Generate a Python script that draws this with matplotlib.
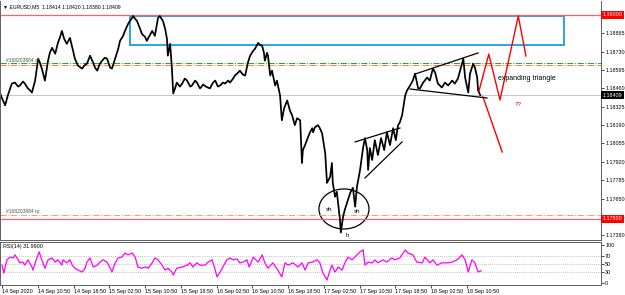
import numpy as np
import matplotlib
matplotlib.use('Agg')
import matplotlib.pyplot as plt
from matplotlib.patches import Ellipse, Rectangle

plt.rcParams['font.family'] = ['Liberation Sans', 'DejaVu Sans']

# EURUSD M5, time in hours after 14 Sep 02:50
price_t = [-0.4, 0.0, 0.7, 1.3, 2.2, 2.9, 3.6, 4.0, 4.7, 5.1, 5.8, 6.3, 6.7, 7.4, 8.1, 8.5, 8.9, 9.6,
           10.3, 10.7, 11.2, 11.9, 12.5, 13.0, 13.4, 13.9, 14.5, 15.2, 15.9, 16.3, 17.0, 17.9, 18.6,
           19.0, 19.7, 20.4, 20.8, 21.3, 21.9, 22.4, 23.0, 23.5, 24.2, 24.6, 25.3, 26.0, 26.4, 27.1,
           27.5, 28.2, 28.6, 29.1, 29.3, 29.8, 30.2, 30.9, 31.3, 32.0, 32.4, 33.1, 33.6, 34.2, 34.9,
           35.3, 36.0, 36.5, 36.9, 37.1, 37.6, 38.0, 38.3, 38.7, 39.1, 39.8, 40.3, 40.9, 41.4, 42.1,
           42.5, 43.2, 43.6, 44.3, 45.0, 45.6, 46.5, 47.2, 47.7, 48.3, 48.8, 49.4, 49.9, 50.6, 51.0,
           51.7, 52.1, 52.8, 53.2, 53.9, 54.4, 55.0, 55.5, 56.2, 56.6, 57.3, 57.7, 58.2, 58.6, 58.8,
           59.3, 59.5, 60.0, 60.4, 61.1, 61.5, 62.2, 62.6, 63.1, 63.8, 64.4, 64.9, 65.5, 66.0, 66.7,
           67.1, 67.3, 67.8, 68.2, 68.9, 69.4, 69.6, 70.0, 70.7, 71.1, 71.6, 72.3, 72.7, 73.4, 73.8,
           74.0, 74.5, 74.9, 75.6, 75.8, 76.3, 76.7, 77.2, 77.9, 78.5, 79.0, 79.4, 80.1, 80.8, 81.2,
           81.7, 81.9, 82.3, 82.8, 83.4, 84.1, 84.8, 85.5, 86.1, 86.8, 87.5, 88.1, 88.6, 89.0, 89.5,
           90.2, 90.6, 91.3, 91.9, 92.4, 93.1, 93.5, 94.2, 95.1, 95.7, 96.4, 96.9, 97.5, 98.4, 99.1,
           99.8, 100.7, 101.3, 102.0, 102.9, 103.2, 103.6, 104.3, 104.7, 105.4, 105.8, 106.3, 106.5,
           107.0]
price = [1.18422, 1.18386, 1.18335, 1.18408, 1.18495, 1.18502, 1.18473, 1.18481, 1.18510, 1.18495,
         1.18459, 1.18444, 1.18429, 1.18517, 1.18678, 1.18648, 1.18605, 1.18517, 1.18663, 1.18721,
         1.18758, 1.18714, 1.18794, 1.18838, 1.18882, 1.18824, 1.18787, 1.18831, 1.18736, 1.18678,
         1.18627, 1.18605, 1.18634, 1.18641, 1.18700, 1.18648, 1.18612, 1.18590, 1.18641, 1.18663,
         1.18685, 1.18678, 1.18612, 1.18605, 1.18678, 1.18751, 1.18809, 1.18846, 1.18882, 1.18933,
         1.18955, 1.18977, 1.18992, 1.18970, 1.18955, 1.18897, 1.18860, 1.18838, 1.18809, 1.18853,
         1.18882, 1.18846, 1.18977, 1.18992, 1.18955, 1.18897, 1.18824, 1.18700, 1.18787, 1.18612,
         1.18422, 1.18459, 1.18502, 1.18473, 1.18495, 1.18532, 1.18517, 1.18473, 1.18481, 1.18517,
         1.18502, 1.18459, 1.18488, 1.18473, 1.18459, 1.18502, 1.18517, 1.18473, 1.18481, 1.18502,
         1.18495, 1.18517, 1.18502, 1.18532, 1.18554, 1.18575, 1.18590, 1.18561, 1.18554, 1.18648,
         1.18700, 1.18736, 1.18751, 1.18794, 1.18780, 1.18772, 1.18721, 1.18663, 1.18721, 1.18700,
         1.18554, 1.18590, 1.18481, 1.18517, 1.18408, 1.18225, 1.18313, 1.18371, 1.18298, 1.18262,
         1.18189, 1.18240, 1.18225, 1.17911, 1.18006, 1.18043, 1.18079, 1.18137, 1.18167, 1.18137,
         1.18174, 1.18189, 1.18167, 1.18130, 1.17984, 1.17765, 1.17809, 1.17911, 1.17765, 1.17663,
         1.17699, 1.17495, 1.17400, 1.17517, 1.17568, 1.17619, 1.17692, 1.17729, 1.17590, 1.17736,
         1.17860, 1.18028, 1.18094, 1.18006, 1.17860, 1.18021, 1.17933, 1.18079, 1.17970, 1.18094,
         1.18006, 1.18137, 1.18043, 1.18167, 1.18079, 1.18189, 1.18210, 1.18262, 1.18408, 1.18444,
         1.18481, 1.18517, 1.18568, 1.18459, 1.18459, 1.18502, 1.18539, 1.18517, 1.18605, 1.18575,
         1.18495, 1.18466, 1.18502, 1.18481, 1.18517, 1.18495, 1.18532, 1.18641, 1.18678, 1.18539,
         1.18429, 1.18568, 1.18641, 1.18612, 1.18539, 1.18444, 1.18409]

rsi_t = [0.0, 0.4, 1.1, 1.8, 2.5, 2.9, 3.6, 4.0, 4.7, 5.1, 5.8, 6.7, 6.9, 7.8, 8.3, 8.9, 9.6, 10.3,
         11.2, 11.9, 12.5, 13.4, 13.6, 14.5, 15.2, 15.7, 16.3, 17.0, 17.9, 18.6, 19.0, 19.7, 20.4,
         21.3, 21.9, 22.6, 23.5, 24.2, 24.6, 25.3, 26.0, 26.8, 27.5, 28.2, 29.1, 29.8, 30.4, 31.3,
         32.0, 32.7, 33.6, 34.2, 34.9, 35.8, 36.5, 37.1, 38.0, 38.3, 39.1, 40.3, 41.4, 42.1, 42.7,
         43.6, 44.3, 45.4, 46.1, 47.0, 47.7, 48.1, 48.8, 49.4, 50.3, 51.0, 51.7, 52.6, 53.2, 53.9,
         54.8, 55.3, 56.2, 57.3, 58.2, 58.8, 59.5, 60.6, 61.7, 62.6, 63.3, 64.0, 65.1, 66.2, 67.1,
         67.8, 68.5, 69.4, 70.5, 71.1, 71.8, 72.7, 73.4, 73.8, 74.5, 75.2, 76.1, 76.7, 77.4, 78.3,
         79.4, 80.1, 80.8, 81.2, 81.9, 82.8, 83.4, 84.1, 85.2, 86.1, 87.2, 87.9, 89.0, 90.2, 90.8,
         91.9, 92.8, 94.0, 94.6, 95.7, 96.4, 97.3, 98.4, 99.6, 100.7, 101.8, 102.9, 103.6, 104.3,
         105.1, 105.8, 106.5, 107.2]
rsi = [47, 26, 61, 68, 66, 74, 61, 53, 55, 47, 61, 42, 34, 66, 82, 61, 39, 61,
       66, 55, 61, 47, 61, 53, 61, 47, 39, 34, 29, 39, 55, 66, 42,
       47, 55, 61, 55, 39, 29, 53, 66, 68, 79, 74, 79, 68, 42, 39,
       42, 39, 53, 66, 61, 47, 34, 39, 29, 21, 39, 42, 47, 53, 42,
       53, 47, 47, 55, 61, 34, 16, 29, 42, 61, 66, 61, 63, 53, 55,
       61, 42, 68, 55, 74, 53, 39, 53, 34, 16, 53, 47, 53, 42, 53,
       34, 53, 55, 61, 53, 26, 8, 34, 47, 29, 42, 34, 53, 68, 61,
       74, 82, 87, 47, 55, 53, 61, 53, 61, 55, 66, 61, 66, 87, 79,
       74, 55, 53, 68, 53, 61, 47, 53, 53, 55, 61, 74, 61, 29,
       61, 53, 29, 31.99]

# drawings on the chart
box_t = [28.6, 125.7]
box_p = [1.18779, 1.18992]
zig_t = [106.7, 108.9, 111.4, 115.5, 117.2]
zig_p = [1.18440, 1.18712, 1.18374, 1.18992, 1.18698]
down_t = [107.6, 111.9]
down_p = [1.18396, 1.17992]
tri_up_t, tri_up_p = [92.4, 106.5], [1.18565, 1.18720]
tri_lo_t, tri_lo_p = [91.3, 108.5], [1.18455, 1.18389]
wedge_up_t, wedge_up_p = [79.0, 89.0], [1.18066, 1.18168]
wedge_lo_t, wedge_lo_p = [81.2, 89.5], [1.17801, 1.18066]

ytick_vals = [1.19000, 1.18865, 1.18730, 1.18595, 1.18460, 1.18325, 1.18190, 1.18055,
              1.17920, 1.17785, 1.17650, 1.17515, 1.17380]
hidden_ticks = [1.19000]   # covered by the red price box
xtick_hours = [0, 8, 16, 24, 32, 40, 48, 56, 64, 72, 80, 88, 96, 104]
xtick_labels = ['14 Sep 2020', '14 Sep 10:50', '14 Sep 18:50', '15 Sep 02:50', '15 Sep 10:50',
                '15 Sep 18:50', '16 Sep 02:50', '16 Sep 10:50', '16 Sep 18:50', '17 Sep 02:50',
                '17 Sep 10:50', '17 Sep 18:50', '18 Sep 02:50', '18 Sep 10:50']

fs = 3.9
fig = plt.figure(figsize=(6.25, 2.95), dpi=100)
ax = fig.add_axes([0, 55/295, 601/625, 239/295])
ax2 = fig.add_axes([0, 10/295, 601/625, 43/295], sharex=ax)

##########################
#  price panel
##########################
ax.axhline(1.18409, color='#c8c8c8', lw=0.7)
ax.axhline(1.19000, color='#ff6060', lw=0.9)
ax.axhline(1.17500, color='#ff6060', lw=0.9)
ax.axhline(1.18646, color='#2ca02c', lw=0.7, ls='-.')
ax.axhline(1.18633, color='#ff7f2a', lw=0.7, ls='-.')
ax.axhline(1.17529, color='#ff9966', lw=0.7, ls='-.')
ax.plot(price_t, price, color='black', lw=1.25)

ax.add_patch(Rectangle((box_t[0], box_p[0]), box_t[1]-box_t[0], box_p[1]-box_p[0],
                       fill=False, ec='#1b9ce8', lw=1.3))
ax.plot(zig_t, zig_p, color='red', lw=1.0)
ax.plot(down_t, down_p, color='red', lw=1.0)
ax.plot(tri_up_t, tri_up_p, color='black', lw=0.9)
ax.plot(tri_lo_t, tri_lo_p, color='black', lw=0.9)
ax.plot(wedge_up_t, wedge_up_p, color='black', lw=0.9)
ax.plot(wedge_lo_t, wedge_lo_p, color='black', lw=0.9)
ax.add_patch(Ellipse((76.5, 1.17573), 11.2, 0.00294, fill=False, ec='black', lw=0.9))

ax.text(111.0, 1.18529, 'expanding triangle', fontsize=5.0, va='center')
ax.text(114.8, 1.18338, '??', fontsize=4.5, color='red', va='center')
ax.text(73.2, 1.17566, 'sh', fontsize=4.5, ha='center', va='center')
ax.text(79.4, 1.17551, 'sh', fontsize=4.5, ha='center', va='center')
ax.text(77.2, 1.17375, 'h', fontsize=4.5, ha='center', va='center')
ax.text(0.8, 1.18666, '#168203884 sl', fontsize=3.6, color='#555555', va='center')
ax.text(0.8, 1.17556, '#168203884 tp', fontsize=3.6, color='#555555', va='center')
ax.text(0.005, 0.988, '\u25bc EURUSD,M5  1.18414 1.18420 1.18380 1.18409',
        transform=ax.transAxes, fontsize=3.7, va='top')

ax.set_ylim(1.17345, 1.19102)
ax.set_xlim(-0.45, 134.0)
ax.yaxis.tick_right()
ax.set_yticks(ytick_vals)
ax.set_yticklabels(['' if v in hidden_ticks else '%.5f' % v for v in ytick_vals])
ax.tick_params(axis='y', labelsize=fs, length=2, pad=1, width=0.5)
ax.tick_params(axis='x', bottom=False, labelbottom=False)
ax.spines['top'].set_visible(False)
for s in ['left', 'right', 'bottom']:
    ax.spines[s].set_linewidth(0.7)
    ax.spines[s].set_color('#606060')

# price boxes on the scale
ytr = ax.get_yaxis_transform()
for val, bg in [(1.19000, 'red'), (1.17500, 'red'), (1.18409, 'black')]:
    ax.text(1.003, val, '%.5f' % val, transform=ytr, fontsize=fs, color='white',
            va='center', ha='left', clip_on=False, zorder=5,
            bbox=dict(boxstyle='square,pad=0.25', fc=bg, ec='none'))

##########################
#  RSI panel
##########################
for lvl in [70, 50, 30]:
    ax2.axhline(lvl, color='#b0b0b0', lw=0.6, ls=(0, (1, 1.5)))
ax2.plot(rsi_t, rsi, color='#ff00ff', lw=0.9)
ax2.text(0.005, 0.95, 'RSI(14) 31.9900', transform=ax2.transAxes, fontsize=fs, va='top')
ax2.set_ylim(-5.3, 107.9)
ax2.yaxis.tick_right()
ax2.set_yticks([0, 30, 50, 70, 100])
ax2.tick_params(axis='y', labelsize=fs, length=2, pad=1, width=0.5)
ax2.set_xticks(xtick_hours)
ax2.set_xticklabels(xtick_labels, ha='left')
ax2.tick_params(axis='x', labelsize=fs, length=2, pad=1, width=0.5)
for s in ['left', 'right', 'bottom', 'top']:
    ax2.spines[s].set_linewidth(0.7)
    ax2.spines[s].set_color('#606060')

fig.savefig('out.png', dpi=100)
